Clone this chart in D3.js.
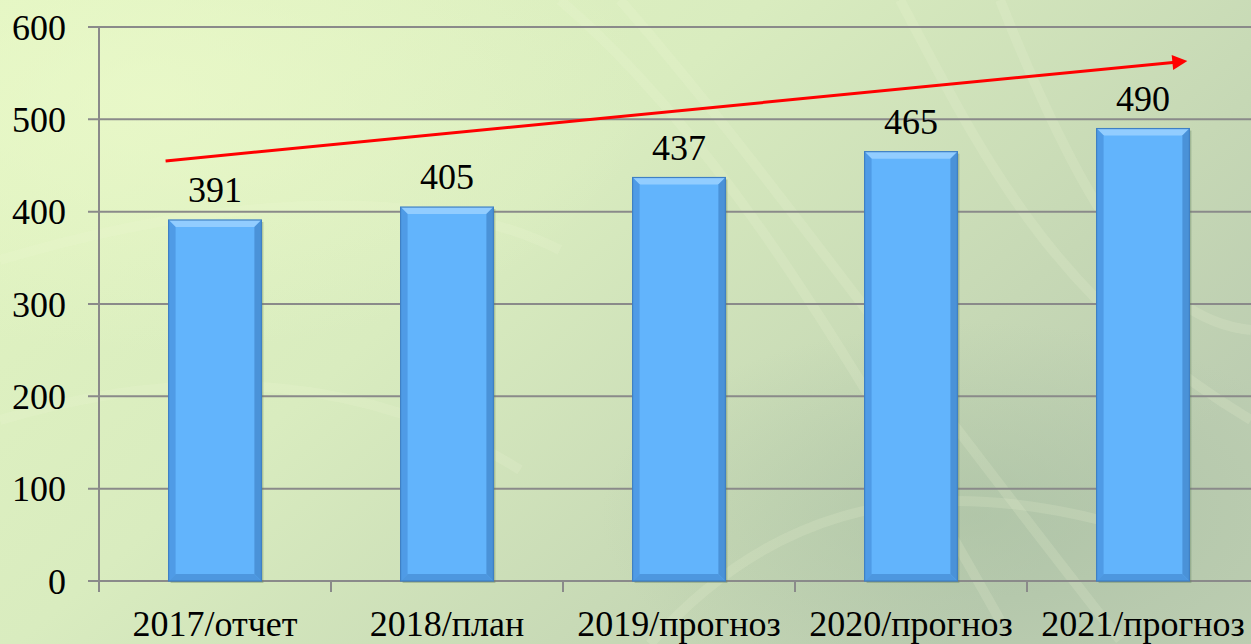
<!DOCTYPE html>
<html><head><meta charset="utf-8">
<script src="https://cdn.jsdelivr.net/npm/d3@7"></script>
</head><body style="margin:0;overflow:hidden">
<script>
const categories = ["2017/отчет","2018/план","2019/прогноз","2020/прогноз","2021/прогноз"];
const values = [391,405,437,465,490];
const yTicks = [0,100,200,300,400,500,600];
const trendStart = 455, trendEnd = 563;

const W = 1251, H = 644;
const m = {left:99, top:27, bottom:63};
const plotW = 232*5;
const svg = d3.select("body").append("svg").attr("width",W).attr("height",H);
const defs = svg.append("defs");

const bg = defs.append("linearGradient").attr("id","bg").attr("x1","0").attr("y1","0").attr("x2","1").attr("y2","0.6");
bg.append("stop").attr("offset","0").attr("stop-color","#e2f5c1");
bg.append("stop").attr("offset","0.45").attr("stop-color","#d9ecbf");
bg.append("stop").attr("offset","0.8").attr("stop-color","#c6d8b5");
bg.append("stop").attr("offset","1").attr("stop-color","#bccdb1");
svg.append("rect").attr("width",W).attr("height",H).attr("fill","url(#bg)");
const rg = defs.append("radialGradient").attr("id","glow").attr("cx","0.78").attr("cy","0.8").attr("r","0.3");
rg.append("stop").attr("offset","0").attr("stop-color","#a3bb9f").attr("stop-opacity",0.5);
rg.append("stop").attr("offset","1").attr("stop-color","#a3bb9f").attr("stop-opacity",0);
svg.append("rect").attr("width",W).attr("height",H).attr("fill","url(#glow)");
const rg2 = defs.append("radialGradient").attr("id","glow2").attr("cx","0.12").attr("cy","0.15").attr("r","0.4");
rg2.append("stop").attr("offset","0").attr("stop-color","#ecfacb").attr("stop-opacity",0.7);
rg2.append("stop").attr("offset","1").attr("stop-color","#ecfacb").attr("stop-opacity",0);
svg.append("rect").attr("width",W).attr("height",H).attr("fill","url(#glow2)");
const swirls = [
 "M560,0 C700,120 820,300 1000,620",
 "M620,0 C760,160 900,360 1120,640",
 "M900,0 C980,150 1050,300 1251,420",
 "M0,260 C200,200 420,180 560,250",
 "M0,420 C200,360 380,380 520,470",
 "M650,644 C760,520 900,470 1100,520",
 "M1000,0 C1080,200 1150,320 1251,330"
];
svg.append("g").selectAll("path").data(swirls).join("path").attr("d",d=>d)
  .attr("fill","none").attr("stroke","#f0fadc").attr("stroke-opacity",0.16).attr("stroke-width",10);

const x = d3.scaleBand().domain(categories).range([m.left, m.left+plotW]).paddingInner(0.6).paddingOuter(0.3);
const xb = d3.scaleBand().domain(categories).range([m.left, m.left+plotW]);
const y = d3.scaleLinear().domain([0,600]).range([H-m.bottom, m.top]);

const grid = "#8a8a8a";
svg.append("g").selectAll("line").data(yTicks).join("line")
  .attr("x1",m.left-11).attr("x2",W).attr("y1",d=>y(d)).attr("y2",d=>y(d))
  .attr("stroke",grid).attr("stroke-width",2);
svg.append("line").attr("x1",m.left).attr("x2",m.left).attr("y1",y(600)).attr("y2",y(0)+11).attr("stroke",grid).attr("stroke-width",2);
svg.append("g").selectAll("line").data(categories.slice(1)).join("line")
  .attr("x1",d=>xb(d)).attr("x2",d=>xb(d)).attr("y1",y(0)).attr("y2",y(0)+11)
  .attr("stroke",grid).attr("stroke-width",2);

const data = categories.map((c,i)=>({c, v:values[i]}));
const bw = x.bandwidth(), bv = 7;
const bars = svg.append("g").selectAll("g").data(data).join("g");
bars.append("rect").attr("x",d=>x(d.c)+2).attr("y",d=>y(d.v)+2).attr("width",bw).attr("height",d=>y(0)-y(d.v))
  .attr("fill","#5c7a5a").attr("opacity",0.35);
bars.append("rect").attr("x",d=>x(d.c)).attr("y",d=>y(d.v)).attr("width",bw).attr("height",d=>y(0)-y(d.v))
  .attr("fill","#62b4fc");
const poly = (pts)=>pts.map(p=>p.join(",")).join(" ");
bars.append("polygon").attr("fill","#92cdff").attr("points",d=>{const x0=x(d.c),x1=x0+bw,t=y(d.v);return poly([[x0,t],[x1,t],[x1-bv,t+bv],[x0+bv,t+bv]]);});
bars.append("polygon").attr("fill","#4f9be6").attr("points",d=>{const x0=x(d.c),t=y(d.v),b=y(0);return poly([[x0,t],[x0+bv,t+bv],[x0+bv,b-bv],[x0,b]]);});
bars.append("polygon").attr("fill","#4a92d8").attr("points",d=>{const x1=x(d.c)+bw,t=y(d.v),b=y(0);return poly([[x1,t],[x1-bv,t+bv],[x1-bv,b-bv],[x1,b]]);});
bars.append("polygon").attr("fill","#4d97df").attr("points",d=>{const x0=x(d.c),x1=x0+bw,b=y(0);return poly([[x0,b],[x0+bv,b-bv],[x1-bv,b-bv],[x1,b]]);});
bars.append("rect").attr("x",d=>x(d.c)).attr("y",d=>y(d.v)).attr("width",bw).attr("height",d=>y(0)-y(d.v))
  .attr("fill","none").attr("stroke","#3f80c4").attr("stroke-width",1.2);

defs.append("marker").attr("id","ah").attr("viewBox","0 0 10 10").attr("refX",2).attr("refY",5)
  .attr("markerWidth",5.5).attr("markerHeight",5).attr("orient","auto").attr("markerUnits","strokeWidth")
  .append("path").attr("d","M0,0 L10,5 L0,10 Z").attr("fill","#ff0000");
svg.append("line").attr("x1",x(categories[0])-3).attr("y1",y(trendStart))
  .attr("x2",x(categories[4])+bw-14).attr("y2",y(trendEnd)+1)
  .attr("stroke","#ff0000").attr("stroke-width",3).attr("marker-end","url(#ah)");

// texts
svg.append("g").selectAll("text").data(yTicks).join("text")
  .attr("x",66).attr("y",d=>y(d)).attr("dy","0.35em").attr("text-anchor","end")
  .attr("font-size",36).style("font-family",'"Liberation Serif"').text(d=>d);
svg.append("g").selectAll("text").data(categories).join("text")
  .attr("x",d=>xb(d)+xb.bandwidth()/2).attr("y",636).attr("text-anchor","middle")
  .attr("font-size",36).style("font-family",'"Liberation Serif"').text(d=>d);
svg.append("g").selectAll("text").data(data).join("text")
  .attr("x",d=>x(d.c)+bw/2).attr("y",d=>y(d.v)-18).attr("text-anchor","middle")
  .attr("font-size",36).style("font-family",'"Liberation Serif"').text(d=>d.v);
</script>
</body></html>
